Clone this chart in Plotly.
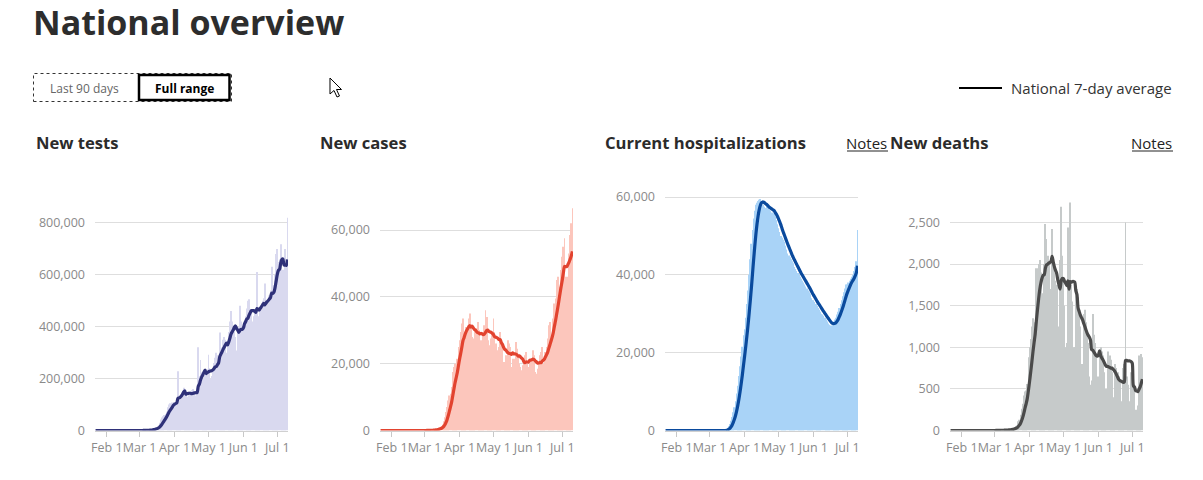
import pandas as pd
import plotly.graph_objects as go

W, H = 1203, 480

dates = pd.date_range("2020-01-22", "2020-07-10", freq="D")

month_ticks = ["2020-02-01", "2020-03-01", "2020-04-01", "2020-05-01", "2020-06-01", "2020-07-01"]
month_labels = ["Feb 1", "Mar 1", "Apr 1", "May 1", "Jun 1", "Jul 1"]

# ---- daily values (Jan 22 .. Jul 10, 2020) ----
tests_janfeb = [0, 0, 0, 0, 0, 0, 0, 0, 0, 0,
                0, 0, 0, 0, 0, 0, 0, 0, 0, 0, 0, 0, 0, 0, 0, 0, 0, 0, 0, 0, 0, 0, 0, 0, 0, 0, 0, 0, 0]
tests_mar = [0, 0, 0, 900, 300, 600, 1000, 1200, 1500, 2000, 3000, 4500, 7500, 8000, 9000, 12000,
             14000, 20000, 30000, 42000, 50000, 55000, 60000, 63000, 72000, 90000, 100000, 105000,
             95000, 108000, 110000]
tests_apr = [100000, 110000, 120000, 228000, 105000, 125000, 140000, 150000, 165000, 155000,
             140000, 120000, 130000, 145000, 150000, 155000, 160000, 150000, 125000, 135000,
             150000, 321000, 210000, 272000, 225000, 190000, 200000, 215000, 225000, 235000]
tests_may = [292000, 240000, 200000, 210000, 235000, 260000, 280000, 300000, 290000, 250000,
             378000, 300000, 320000, 350000, 360000, 350000, 300000, 330000, 380000, 420000,
             461000, 420000, 400000, 380000, 360000, 308000, 380000, 400000, 481000, 420000, 380000]
tests_jun = [400000, 420000, 440000, 470000, 500000, 506000, 440000, 460000, 420000, 440000,
             450000, 470000, 611000, 420000, 440000, 470000, 480000, 500000, 510000, 567000,
             470000, 480000, 500000, 520000, 540000, 631000, 560000, 500000, 600000, 680000]
tests_jul = [700000, 650000, 660000, 718000, 600000, 620000, 519000, 700000, 640000, 820000]

cases_janfeb = [0, 0, 0, 0, 0, 0, 0, 0, 0, 0,
                0, 0, 0, 0, 0, 0, 0, 0, 0, 0, 0, 0, 0, 0, 0, 0, 0, 0, 0, 0, 0, 0, 0, 0, 0, 0, 0, 0, 0]
cases_mar = [10, 20, 30, 50, 70, 100, 120, 150, 200, 280, 380, 450, 650, 750, 900,
             1300, 1800, 2800, 4000, 5500, 7000, 9000, 10500, 11000, 13000, 17500, 19000, 20000,
             19500, 21500, 25000]
cases_apr = [27000, 29500, 32000, 33500, 26000, 29000, 31000, 31500, 33500, 35000,
             30500, 28000, 26000, 27500, 30000, 30500, 32500, 30000, 26000, 27000,
             26500, 28500, 31500, 36000, 34000, 27000, 24000, 25500, 27500, 29500]
cases_may = [33500, 29500, 26000, 23000, 24000, 25000, 29500, 27000, 25500, 20500,
             18500, 22500, 21500, 27000, 26000, 25000, 19000, 21500, 20500, 21500,
             26500, 24500, 22000, 20000, 19000, 18000, 19500, 21000, 22500, 23500, 20000]
cases_jun = [19000, 21000, 20500, 21500, 24000, 22500, 17500, 17000, 18500, 20500,
             22500, 23500, 25000, 20000, 19000, 23500, 25000, 27500, 31500, 32500,
             28000, 27000, 33500, 38000, 39500, 45000, 46000, 43000, 42000, 48000]
cases_jul = [52000, 55000, 57500, 46000, 43000, 46000, 53000, 58500, 62000, 66500]

hosp_janfeb = [0, 0, 0, 0, 0, 0, 0, 0, 0, 0,
               0, 0, 0, 0, 0, 0, 0, 0, 0, 0, 0, 0, 0, 0, 0, 0, 0, 0, 0, 0, 0, 0, 0, 0, 0, 0, 0, 0, 0]
hosp_mar = [0, 0, 0, 0, 0, 0, 0, 0, 0, 0, 0, 0, 0, 0, 0,
            400, 700, 1100, 1700, 2500, 3500, 4700, 6000, 7500, 9500, 11500, 14000, 16500,
            19000, 21500, 24500]
hosp_apr = [26000, 29000, 32500, 36000, 40000, 44000, 48000, 51500, 54500, 56500,
            58000, 58500, 59000, 59300, 59500, 58800, 58000, 57500, 57000, 57200,
            57800, 57300, 56800, 56500, 56000, 55500, 55800, 55000, 54000, 53000]
hosp_may = [52000, 51000, 50000, 49500, 49000, 48500, 47500, 46500, 45500, 45000,
            44500, 44000, 43500, 43000, 42000, 41500, 41000, 40500, 40000, 39500,
            39000, 38500, 38000, 37500, 37000, 36500, 36000, 35500, 35000, 34000, 33500]
hosp_jun = [33500, 33000, 32500, 32000, 31500, 31000, 30500, 30000, 29800, 29500,
            29000, 28500, 28000, 27500, 27200, 27000, 27000, 27500, 28000, 28500,
            29000, 29800, 30500, 31500, 32500, 33500, 34500, 35500, 36500, 37500]
hosp_jul = [37500, 38000, 38500, 39000, 39500, 40000, 41000, 42000, 43500, 51500]

deaths_janfeb = [0, 0, 0, 0, 0, 0, 0, 0, 0, 0,
                 0, 0, 0, 0, 0, 0, 0, 0, 0, 0, 0, 0, 0, 0, 0, 0, 0, 0, 0, 0, 0, 0, 0, 0, 0, 0, 0, 0, 0]
deaths_mar = [1, 2, 3, 2, 3, 3, 3, 4, 4, 6, 7, 8, 10, 12, 13,
              18, 23, 30, 40, 55, 60, 110, 130, 190, 260, 320, 420, 470, 480, 560, 880]
deaths_apr = [1000, 1100, 1250, 1350, 1250, 1300, 1950, 1950, 2000, 2050,
              1900, 1650, 1550, 2000, 2480, 2300, 2100, 2000, 1700, 1650,
              2420, 2000, 1900, 1800, 1750, 1150, 1250, 2050, 2690, 2100]
deaths_may = [1800, 1500, 1000, 1050, 2440, 2000, 2740, 1750, 1550, 1000,
              1000, 1700, 1700, 1600, 1450, 1250, 800, 800, 1400, 1450,
              1300, 1200, 1050, 650, 550, 600, 1400, 1150, 1050, 900, 600]
deaths_jun = [650, 950, 1000, 950, 900, 700, 400, 500, 950, 950,
              900, 850, 700, 300, 400, 800, 750, 700, 650, 600,
              250, 350, 750, 800, 2500, 650, 550, 250, 350, 700]
deaths_jul = [650, 600, 550, 250, 220, 300, 900, 850, 920, 880]

new_tests = tests_janfeb + tests_mar + tests_apr + tests_may + tests_jun + tests_jul
new_cases = cases_janfeb + cases_mar + cases_apr + cases_may + cases_jun + cases_jul
hospitalizations = hosp_janfeb + hosp_mar + hosp_apr + hosp_may + hosp_jun + hosp_jul
new_deaths = deaths_janfeb + deaths_mar + deaths_apr + deaths_may + deaths_jun + deaths_jul

panel_titles = ["New tests", "New cases", "Current hospitalizations", "New deaths"]


def avg7(values):
    return pd.Series(values, dtype=float).rolling(7, min_periods=1).mean()


def fx(px):
    return px / W


def fy(py):
    return 1 - py / H


panels = [
    dict(vals=new_tests, x0=95, title_x=34, bar="#d9d9ef", line="#2f3179", ymax=927200, dtick=200000, notes=False),
    dict(vals=new_cases, x0=380, title_x=318, bar="#fcc6bc", line="#e2432f", ymax=71970, dtick=20000, notes=False),
    dict(vals=hospitalizations, x0=665, title_x=603, bar="#a9d3f7", line="#0a4a9d", ymax=61800, dtick=20000, notes=True),
    dict(vals=new_deaths, x0=950, title_x=888, bar="#c6caca", line="#4a4a4a", ymax=2890, dtick=500, notes=True),
]

FONT = "Open Sans, Noto Sans, sans-serif"
fig = go.Figure()
layout = dict(
    width=W, height=H, autosize=False, margin=dict(l=0, r=0, t=0, b=0, pad=0),
    paper_bgcolor="white", plot_bgcolor="white",
    showlegend=False, bargap=0.25,
    font=dict(family=FONT, color="#333"),
)

annotations = []
shapes = []

for i, p in enumerate(panels, start=1):
    xa = "x" if i == 1 else f"x{i}"
    ya = "y" if i == 1 else f"y{i}"
    fig.add_trace(go.Bar(x=dates, y=p["vals"], marker=dict(color=p["bar"], line=dict(width=0)),
                         xaxis=xa, yaxis=ya, hoverinfo="skip"))
    fig.add_trace(go.Scatter(x=dates, y=avg7(p["vals"]), mode="lines",
                             line=dict(color=p["line"], width=3.2, shape="spline", smoothing=0.8),
                             xaxis=xa, yaxis=ya, hoverinfo="skip"))
    layout[f"xaxis{'' if i == 1 else i}"] = dict(
        domain=[fx(p["x0"]), fx(p["x0"] + 193)], anchor=ya, type="date",
        range=["2020-01-21 12:00", "2020-07-10 12:00"],
        tickvals=month_ticks, ticktext=month_labels, tickangle=0,
        ticks="outside", ticklen=5, tickcolor="#c8c8c8", tickwidth=1,
        showgrid=False, showline=True, linecolor="#d0d0d0", linewidth=1,
        zeroline=False, tickfont=dict(size=12.5, color="#8a8a8a", family=FONT),
        fixedrange=True, automargin=False,
    )
    layout[f"yaxis{'' if i == 1 else i}"] = dict(
        domain=[fy(430.5), fy(190)], anchor=xa, range=[0, p["ymax"]],
        dtick=p["dtick"], tick0=0, tickformat=",d",
        showgrid=True, gridcolor="#dedede", gridwidth=1, zeroline=False,
        showline=False, ticks="", ticklabelstandoff=9,
        tickfont=dict(size=12.5, color="#8a8a8a", family=FONT), fixedrange=True, automargin=False,
    )
    annotations.append(dict(text="<b>" + panel_titles[i - 1] + "</b>", x=fx(p["title_x"]), y=fy(143),
                            xref="paper", yref="paper", xanchor="left", yanchor="middle",
                            showarrow=False, font=dict(size=16.6, color="#2b2b2b", family=FONT)))
    if p["notes"]:
        right = p["x0"] + 193 + (888 - 858)
        annotations.append(dict(text="Notes", x=fx(right + 1), y=fy(142.5), xref="paper", yref="paper",
                                xanchor="right", yanchor="middle", showarrow=False,
                                font=dict(size=15, color="#222", family=FONT)))
        shapes.append(dict(type="line", xref="paper", yref="paper", x0=fx(right - 41), x1=fx(right),
                           y0=fy(151), y1=fy(151), line=dict(color="#222", width=1)))

# page title
annotations.append(dict(text="<b>National overview</b>", x=fx(31), y=fy(22), xref="paper", yref="paper",
                        xanchor="left", yanchor="middle", showarrow=False,
                        font=dict(size=34, color="#2d2d2d", family=FONT)))
# range buttons
shapes.append(dict(type="rect", xref="paper", yref="paper", x0=fx(33.5), x1=fx(231.5), y0=fy(101.5), y1=fy(73.5),
                   line=dict(color="#333", width=1, dash="dot")))
shapes.append(dict(type="rect", xref="paper", yref="paper", x0=fx(139), x1=fx(229.5), y0=fy(100), y1=fy(75),
                   line=dict(color="#000", width=2.5)))
annotations.append(dict(text="Last 90 days", x=fx(84.5), y=fy(88), xref="paper", yref="paper",
                        xanchor="center", yanchor="middle", showarrow=False,
                        font=dict(size=12, color="#666", family=FONT)))
annotations.append(dict(text="<b>Full range</b>", x=fx(184.5), y=fy(88), xref="paper", yref="paper",
                        xanchor="center", yanchor="middle", showarrow=False,
                        font=dict(size=12, color="#000", family=FONT)))
# legend
shapes.append(dict(type="line", xref="paper", yref="paper", x0=fx(959), x1=fx(1002), y0=fy(88), y1=fy(88),
                   line=dict(color="#000", width=2)))
annotations.append(dict(text="National 7-day average", x=fx(1174), y=fy(88), xref="paper", yref="paper",
                        xanchor="right", yanchor="middle", showarrow=False,
                        font=dict(size=15, color="#333", family=FONT)))

# mouse pointer seen in the screenshot
cursor_pts = [(330, 78), (330, 94), (334, 90.5), (337, 97), (339.5, 96), (336.5, 89.5), (341.5, 89.5)]
path = "M " + " L ".join(f"{fx(x):.5f},{fy(y):.5f}" for x, y in cursor_pts) + " Z"
shapes.append(dict(type="path", xref="paper", yref="paper", path=path,
                   fillcolor="white", line=dict(color="black", width=1)))

layout["annotations"] = annotations
layout["shapes"] = shapes
fig.update_layout(**layout)

fig.write_html(
    "out.html",
    config={"displayModeBar": False, "responsive": False},
    post_script=(
        "document.documentElement.style.margin='0';"
        "document.body.style.margin='0';document.body.style.overflow='hidden';"
        "Plotly.relayout(document.getElementById('{plot_id}'), {width: 1203, height: 480});"
    ),
)
